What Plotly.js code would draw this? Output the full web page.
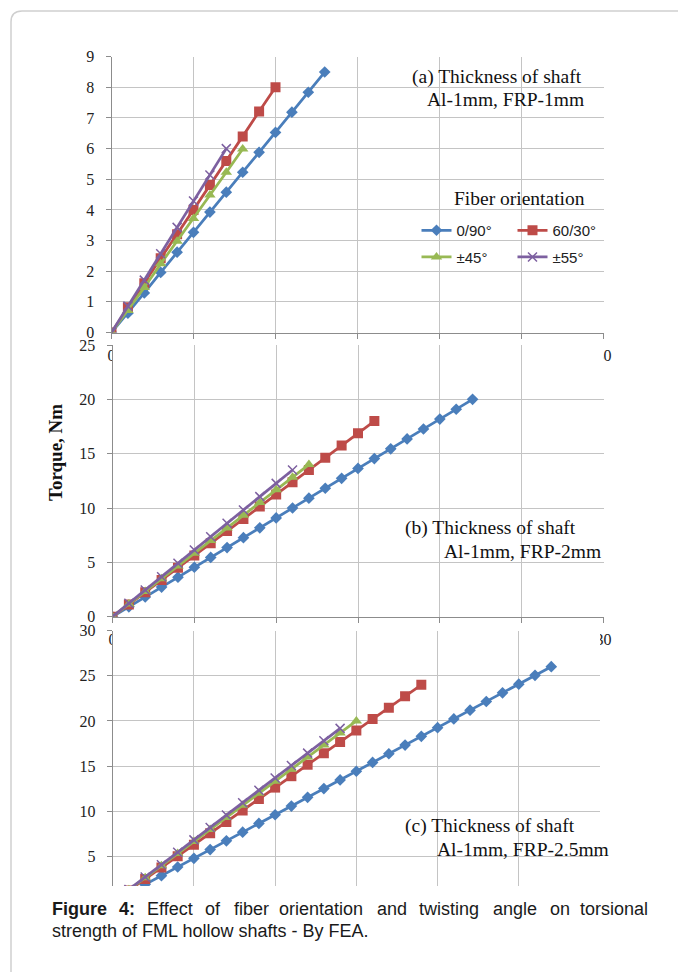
<!DOCTYPE html>
<html><head><meta charset="utf-8">
<script src="https://cdn.plot.ly/plotly-3.0.1.min.js"></script>
<style>html,body{margin:0;padding:0;background:#fff;} #chart{width:678px;height:972px;}</style>
</head><body><div id="chart"></div>
<script>
// ---- data ----
const seriesNames = ['0/90°', '60/30°', '±45°', '±55°'];
const angles = [0,1,2,3,4,5,6,7,8,9,10,11,12,13,14,15,16,17,18,19,20,21,22,23,24,25,26,27];

// (a) Al-1mm, FRP-1mm
const a_0_90  = [0,0.63,1.29,1.96,2.62,3.27,3.93,4.58,5.23,5.88,6.53,7.19,7.84,8.50];
const a_60_30 = [0,0.82,1.61,2.42,3.21,4.00,4.81,5.60,6.40,7.21,8.00];
const a_45    = [0,0.72,1.47,2.24,2.98,3.72,4.49,5.23,5.99];
const a_55    = [0,0.86,1.71,2.57,3.43,4.29,5.14,6.00];

// (b) Al-1mm, FRP-2mm
const b_0_90  = [0,0.91,1.82,2.73,3.64,4.55,5.45,6.36,7.27,8.18,9.09,10.00,10.91,11.82,12.73,13.64,14.55,15.45,16.36,17.27,18.18,19.09,20.00];
const b_60_30 = [0,1.13,2.25,3.38,4.50,5.63,6.75,7.88,9.00,10.13,11.25,12.38,13.50,14.63,15.75,16.88,18.00];
const b_45    = [0,1.17,2.33,3.50,4.67,5.83,7.00,8.17,9.33,10.50,11.67,12.83,14.00];
const b_55    = [0,1.23,2.45,3.68,4.91,6.14,7.36,8.59,9.82,11.05,12.27,13.50];

// (c) Al-1mm, FRP-2.5mm
const c_0_90  = [0,0.96,1.93,2.89,3.85,4.81,5.78,6.74,7.70,8.67,9.63,10.59,11.56,12.52,13.48,14.44,15.41,16.37,17.33,18.30,19.26,20.22,21.19,22.15,23.11,24.07,25.04,26.00];
const c_60_30 = [0,1.26,2.53,3.79,5.05,6.32,7.58,8.84,10.11,11.37,12.63,13.89,15.16,16.42,17.68,18.95,20.21,21.47,22.74,24.00];
const c_45    = [0,1.33,2.67,4.00,5.33,6.67,8.00,9.33,10.67,12.00,13.33,14.67,16.00,17.33,18.67,20.00];
const c_55    = [0,1.37,2.74,4.11,5.48,6.85,8.22,9.59,10.96,12.33,13.70,15.07,16.44,17.81,19.18];

const panelLabels = ['(a) Thickness of shaft', 'Al-1mm, FRP-1mm',
                     '(b) Thickness of shaft', 'Al-1mm, FRP-2mm',
                     '(c) Thickness of shaft', 'Al-1mm, FRP-2.5mm'];
const legendTitle = 'Fiber orientation';
const yTitle = 'Torque, Nm';
const captionLine1 = ['<b>Figure</b>', '<b>4:</b>', 'Effect', 'of', 'fiber', 'orientation', 'and', 'twisting', 'angle', 'on', 'torsional'];
const captionLine2 = 'strength of FML hollow shafts - By FEA.';

// ---- styling ----
const W = 678, H = 972;
const px = x => x / W;
const py = y => (H - y) / H;
const colors = ['#4A7EBB', '#BE4B48', '#98B954', '#7D60A0'];
const markerSyms = ['diamond', 'square', 'triangle-up', 'x-thin'];
const markerSizes = [9, 10, 10, 9];

const panels = [
  {ys: [a_0_90, a_60_30, a_45, a_55], xa: 'x', ya: 'y'},
  {ys: [b_0_90, b_60_30, b_45, b_55], xa: 'x2', ya: 'y2'},
  {ys: [c_0_90, c_60_30, c_45, c_55], xa: 'x3', ya: 'y3'}
];

const traces = [];
panels.forEach((p, pi) => {
  p.ys.forEach((ys, si) => {
    const m = {symbol: markerSyms[si], size: markerSizes[si], color: colors[si], line: {width: 0}};
    if (si === 3) m.line = {width: 1.5, color: colors[si]};
    traces.push({
      type: 'scatter', mode: 'lines+markers',
      x: angles.slice(0, ys.length), y: ys,
      name: seriesNames[si],
      xaxis: p.xa, yaxis: p.ya,
      line: {color: colors[si], width: 2.75},
      marker: m,
      showlegend: pi === 0,
      legend: (si < 2) ? 'legend' : 'legend2'
    });
  });
});

const serif = 'Liberation Serif, Times New Roman, serif';
const sans = 'Liberation Sans, Arial, sans-serif';
const gridC = '#c4c4c4', lineC = '#8c8c8c';

function xAx(domain, anchor, showLabels) {
  return {domain: domain, anchor: anchor, range: [0, 30], dtick: 5, tick0: 0,
    showgrid: true, gridcolor: gridC, gridwidth: 1, zeroline: false,
    showline: showLabels, linecolor: lineC, linewidth: 1,
    ticks: showLabels ? 'outside' : '', ticklen: 5, tickcolor: lineC,
    showticklabels: showLabels, ticklabelstandoff: 3,
    tickfont: {family: serif, size: 16, color: '#222'}};
}
function yAx(domain, anchor, range, dtick) {
  return {domain: domain, anchor: anchor, range: range, dtick: dtick, tick0: 0,
    showgrid: true, gridcolor: gridC, gridwidth: 1, zeroline: false,
    showline: true, linecolor: lineC, linewidth: 1,
    ticks: 'outside', ticklen: 5, tickcolor: lineC, ticklabelstandoff: 8,
    tickfont: {family: serif, size: 16, color: '#222'}};
}

const annotations = [];
function ann(text, x, y, xanchor, font, extra) {
  annotations.push(Object.assign({text: text, xref: 'paper', yref: 'paper', x: px(x), y: py(y),
    xanchor: xanchor, yanchor: 'middle', showarrow: false, font: font}, extra || {}));
}
const labFont = {family: serif, size: 19.5, color: '#111'};
ann(panelLabels[0], 410, 77, 'left', labFont);
ann(panelLabels[1], 586, 100, 'right', labFont);
ann(legendTitle, 452, 198, 'left', labFont);
ann(panelLabels[2], 403, 528, 'left', labFont);
ann(panelLabels[3], 603, 551, 'right', labFont);
ann(panelLabels[4], 403, 826, 'left', labFont);
ann(panelLabels[5], 611, 849, 'right', labFont);
ann('<b>' + yTitle + '</b>', 56, 453, 'center', {family: serif, size: 19, color: '#111'}, {textangle: -90});

const capFont = {family: sans, size: 18, color: '#1a1a1a'};
const capX = [50, 116.5, 145, 203, 232.5, 277, 375, 417, 490.6, 548, 578];
captionLine1.forEach((w, i) => ann(w, capX[i], 909, 'left', capFont));
ann(captionLine2, 50, 931, 'left', capFont);

const shapes = [
  // outer frame
  {type: 'path', xref: 'paper', yref: 'paper',
   path: `M ${px(11)},${py(985)} L ${px(11)},${py(22)} Q ${px(11)},${py(11)} ${px(22)},${py(11)} L ${px(700)},${py(11)}`,
   line: {color: '#cfcfcf', width: 1.5}},
  // chart areas of (b) and (c) cover the x labels of the panel above
  {type: 'rect', xref: 'x2', yref: 'y2', x0: 0, x1: 30, y0: 0, y1: 25, fillcolor: '#ffffff', line: {width: 0}, layer: 'below'},
  {type: 'rect', xref: 'x3', yref: 'y3', x0: 0, x1: 30, y0: 1.75, y1: 30, fillcolor: '#ffffff', line: {width: 0}, layer: 'below'}
];

const legFont = {family: sans, size: 15, color: '#222'};
const layout = {
  width: W, height: H, margin: {l: 0, r: 0, t: 0, b: 0},
  paper_bgcolor: '#ffffff', plot_bgcolor: '#ffffff',
  xaxis:  xAx([px(111.5), px(603.5)], 'y', true),
  yaxis:  yAx([py(332.5), py(56.7)], 'x', [0, 9], 1),
  xaxis2: xAx([px(112.5), px(603.5)], 'y2', true),
  yaxis2: yAx([py(616.7), py(345)], 'x2', [0, 25], 5),
  xaxis3: xAx([px(112.7), px(600)], 'y3', false),
  yaxis3: yAx([py(886), py(630.5)], 'x3', [1.75, 30], 5),
  legend:  {x: px(416.5), y: py(214), xanchor: 'left', yanchor: 'top', orientation: 'h',
            entrywidth: 51, entrywidthmode: 'pixels', bgcolor: 'rgba(0,0,0,0)', font: legFont, itemclick: false},
  legend2: {x: px(416.5), y: py(240.7), xanchor: 'left', yanchor: 'top', orientation: 'h',
            entrywidth: 51, entrywidthmode: 'pixels', bgcolor: 'rgba(0,0,0,0)', font: legFont, itemclick: false},
  annotations: annotations,
  shapes: shapes,
  showlegend: true
};

Plotly.newPlot('chart', traces, layout, {staticPlot: true, displayModeBar: false});
</script>
</body></html>
